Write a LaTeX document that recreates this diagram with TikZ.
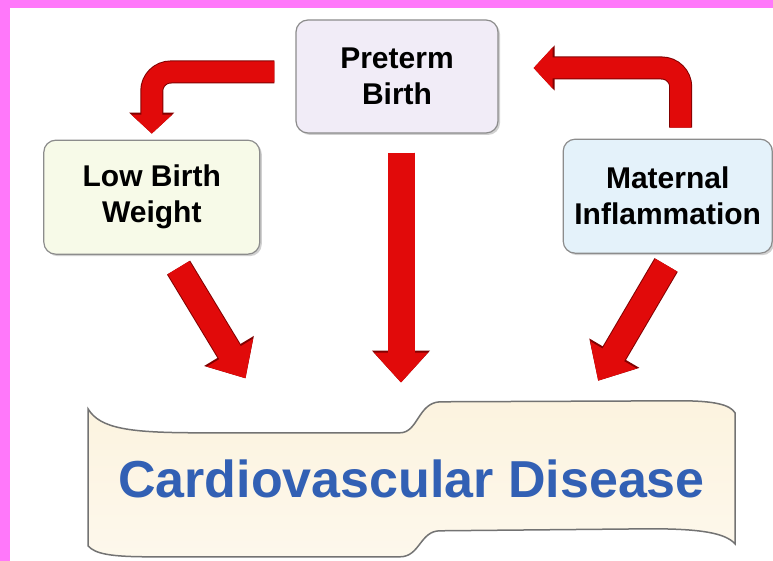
\documentclass[tikz,border=0pt]{standalone}
\usepackage{fontspec}
\setmainfont{Liberation Sans}
\usepackage{xcolor}
\usepackage{tikz}
\usetikzlibrary{arrows.meta,positioning,shadows,backgrounds}
\definecolor{pinkband}{RGB}{255,120,250}
\definecolor{arrowred}{RGB}{225,10,10}
\definecolor{arrowedge}{RGB}{130,0,0}
\definecolor{pretermfill}{RGB}{241,236,247}
\definecolor{lbwfill}{RGB}{247,250,232}
\definecolor{matfill}{RGB}{228,242,250}
\definecolor{wavefill}{RGB}{252,243,223}
\definecolor{cvdblue}{RGB}{50,96,180}
\tikzset{
    block/.style={rectangle, draw=black!45, line width=1.2pt, rounded corners=12pt, align=center, inner sep=0pt,
        font=\bfseries\fontsize{30}{36}\selectfont,
        drop shadow={shadow xshift=2pt, shadow yshift=-2pt, opacity=0.3, fill=black!60}},
    bigarrow/.style={draw=arrowred, line width=25pt, -{Triangle[width=52pt,length=30pt]},
        preaction={draw=arrowedge, line width=27pt, -{Triangle[width=56pt,length=32pt]}}},
    bendarrow/.style={draw=arrowred, line width=21pt, rounded corners=19pt, -{Triangle[width=40pt,length=19pt]},
        preaction={draw=arrowedge, line width=23pt, -{Triangle[width=44pt,length=21pt]}}}
}

\begin{document}
\begin{tikzpicture}[x=1pt, y=1pt]
    \useasboundingbox (0,0) rectangle (773,561);
    % Preterm Birth
    \node[block, fill=pretermfill, minimum width=202pt, minimum height=113pt] (pre) at (397,484.5) {Preterm\\Birth};
    % Low Birth Weight
    \node[block, fill=lbwfill, minimum width=216pt, minimum height=114pt, below left=6pt and 35pt of pre] (lbw) {Low Birth\\Weight};
    % Maternal Inflammation
    \node[block, fill=matfill, minimum width=209pt, minimum height=114pt, below right=5pt and 64pt of pre] (mat) {Maternal\\Inflammation};
    % Cardiovascular Disease
    \node[below=267pt of pre, xshift=14.5pt, minimum width=647pt, minimum height=156pt, inner sep=0pt,
        font=\bfseries\fontsize{52}{60}\selectfont, text=cvdblue] (cvd) {Cardiovascular Disease};

    \begin{scope}[on background layer]
        \fill[white] (0,0) rectangle (773,561);
        \fill[pinkband] (0,0) rectangle (10,561);
        \fill[pinkband] (0,553) rectangle (773,561);
        % wave banner
        \begin{scope}[shift={(cvd.center)}]
            \draw[draw=black!55, line width=1.5pt, top color=wavefill, bottom color=wavefill!60!white]
                (-323.5,70) .. controls (-311.5,50) and (-281.5,46) .. (-211.5,46) -- (-11.5,46)
                .. controls (6.5,46) and (6.5,76) .. (28.5,77) -- (268.5,78)
                .. controls (303.5,78) and (318.5,74) .. (323.5,66) -- (323.5,-65)
                .. controls (313.5,-54) and (288.5,-50) .. (238.5,-50) -- (28.5,-52)
                .. controls (8.5,-52) and (8.5,-78) .. (-11.5,-78) -- (-261.5,-78)
                .. controls (-301.5,-78) and (-316.5,-75) .. (-323.5,-67) -- cycle;
        \end{scope}
    \end{scope}

    \draw[bendarrow, shorten <=21pt, shorten >=6pt] ([yshift=4.5pt]pre.west) -| (lbw.north);
    \draw[bendarrow, shorten <=11pt, shorten >=35pt] ([xshift=13pt]mat.north) |- ([yshift=8.5pt]pre.east);
    \draw[bigarrow, shorten <=15pt, shorten >=26pt] ([xshift=19pt]lbw.south) -- ([xshift=-152.5pt]cvd.north);
    \draw[bigarrow, line width=27pt, shorten <=19pt, shorten >=18pt] ([xshift=4pt]pre.south) -- ([xshift=-10.5pt]cvd.north);
    \draw[bigarrow, shorten <=13pt, shorten >=23pt] ([xshift=5pt]mat.south) -- ([xshift=175pt]cvd.north);
\end{tikzpicture}
\end{document}
